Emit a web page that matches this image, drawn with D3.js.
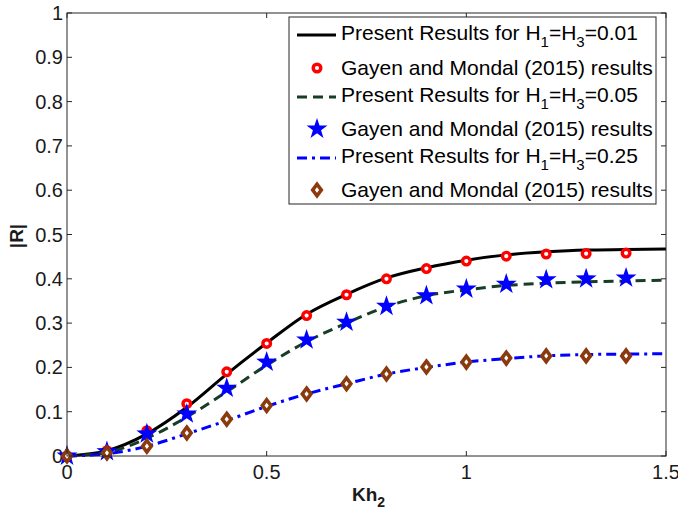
<!DOCTYPE html>
<html><head><meta charset="utf-8">
<script src="https://cdn.jsdelivr.net/npm/d3@7"></script>
<style>body{margin:0;background:#fff}svg{display:block}text{font-family:"Liberation Sans",Arial,Helvetica,sans-serif}</style>
</head><body><svg id="c" width="678" height="514"></svg>
<script>
// ---- data ----
const xLine = [0,0.1,0.2,0.3,0.4,0.5,0.6,0.7,0.8,0.9,1.0,1.1,1.2,1.3,1.4,1.5];
const line001 = [0,0.012,0.05,0.11,0.185,0.255,0.32,0.365,0.402,0.425,0.442,0.454,0.461,0.465,0.466,0.467];
const line005 = [0,0.008,0.04,0.088,0.145,0.205,0.258,0.3,0.337,0.362,0.375,0.385,0.39,0.393,0.395,0.397];
const line025 = [0,0.005,0.022,0.05,0.08,0.112,0.14,0.163,0.185,0.2,0.212,0.22,0.226,0.229,0.23,0.231];
const xPts = [0,0.1,0.2,0.3,0.4,0.5,0.6,0.7,0.8,0.9,1.0,1.1,1.2,1.3,1.4];
const gm001 = [0,0.012,0.057,0.118,0.19,0.254,0.317,0.364,0.40,0.423,0.44,0.451,0.456,0.457,0.458];
const gm005 = [0,0.01,0.05,0.095,0.153,0.212,0.262,0.302,0.338,0.362,0.377,0.388,0.398,0.40,0.402];
const gm025 = [0,0.007,0.022,0.052,0.083,0.114,0.14,0.163,0.185,0.201,0.212,0.221,0.226,0.226,0.226];
const xTicks = [0,0.5,1,1.5];
const xTickLabels = ["0","0.5","1","1.5"];
const yTicks = [0,0.1,0.2,0.3,0.4,0.5,0.6,0.7,0.8,0.9,1];
const yTickLabels = ["0","0.1","0.2","0.3","0.4","0.5","0.6","0.7","0.8","0.9","1"];

const svg = d3.select("#c");
const L=67,R=666,T=13,B=456;
const x = d3.scaleLinear().domain([0,1.5]).range([L,R]);
const y = d3.scaleLinear().domain([0,1]).range([B,T]);
const axC = "#262626";

svg.append("rect").attr("width",678).attr("height",514).attr("fill","#fff");
svg.append("rect").attr("x",L).attr("y",T).attr("width",R-L).attr("height",B-T).attr("fill","#fff");

// ticks
const tl = 5;
const g = svg.append("g").attr("stroke",axC).attr("stroke-width",1);
xTicks.forEach(t=>{
  g.append("line").attr("x1",x(t)).attr("x2",x(t)).attr("y1",B).attr("y2",B-tl);
  g.append("line").attr("x1",x(t)).attr("x2",x(t)).attr("y1",T).attr("y2",T+tl);
});
yTicks.forEach(t=>{
  g.append("line").attr("x1",L).attr("x2",L+tl).attr("y1",y(t)).attr("y2",y(t));
  g.append("line").attr("x1",R).attr("x2",R-tl).attr("y1",y(t)).attr("y2",y(t));
});
xTicks.forEach((t,i)=>svg.append("text").attr("x",x(t)).attr("y",479).attr("text-anchor","middle")
  .attr("font-size",20).attr("fill","#1a1a1a").text(xTickLabels[i]));
yTicks.forEach((t,i)=>svg.append("text").attr("x",63).attr("y",y(t)+7).attr("text-anchor","end")
  .attr("font-size",20).attr("fill","#1a1a1a").text(yTickLabels[i]));

// axis labels
const xl = svg.append("text").attr("x",352).attr("y",501).attr("font-size",19).attr("font-weight","bold").attr("fill","#1a1a1a");
xl.append("tspan").text("Kh");
xl.append("tspan").attr("font-size",14).attr("dy",6).text("2");
svg.append("text").attr("transform","translate(23,236) rotate(-90)").attr("text-anchor","middle")
  .attr("font-size",19).attr("font-weight","bold").attr("fill","#1a1a1a").text("|R|");

// shapes
function starPath(cx,cy,ro,ri){
  const p=[];
  for(let k=0;k<10;k++){const r=k%2?ri:ro;const a=-Math.PI/2+k*Math.PI/5;p.push([cx+r*Math.cos(a),cy+r*Math.sin(a)]);}
  return "M"+p.map(q=>q.join(",")).join("L")+"Z";
}
function diamondPath(cx,cy,w,h){return `M${cx},${cy-h}L${cx+w},${cy}L${cx},${cy+h}L${cx-w},${cy}Z`;}

const line = d3.line().x(d=>x(d[0])).y(d=>y(d[1])).curve(d3.curveMonotoneX);
const plot = svg.append("g");
const styles = [
  {stroke:"#000",dash:null},
  {stroke:"#173d26",dash:"10,6"},
  {stroke:"#0000ff",dash:"10,5,3,5"}
];
function drawLine(vals,s){
  plot.append("path").attr("d",line(xLine.map((v,i)=>[v,vals[i]]))).attr("fill","none")
    .attr("stroke",s.stroke).attr("stroke-width",3).attr("stroke-dasharray",s.dash);
}
function drawCircles(vals){
  xPts.forEach((v,i)=>plot.append("circle").attr("cx",x(v)).attr("cy",y(vals[i])).attr("r",3.8)
    .attr("fill","#fff").attr("stroke","#ff0000").attr("stroke-width",3.4));
}
function drawStars(vals){
  xPts.forEach((v,i)=>plot.append("path").attr("d",starPath(x(v),y(vals[i]),11,4.3)).attr("fill","#0000ff"));
}
function drawDiamonds(vals){
  xPts.forEach((v,i)=>plot.append("path").attr("d",diamondPath(x(v),y(vals[i]),4.3,5.8))
    .attr("fill","#fff").attr("stroke","#8b3a0e").attr("stroke-width",3.6).attr("stroke-linejoin","miter"));
}
drawLine(line001,styles[0]); drawCircles(gm001);
drawLine(line005,styles[1]); drawStars(gm005);
drawLine(line025,styles[2]); drawDiamonds(gm025);

// box
svg.append("rect").attr("x",L).attr("y",T).attr("width",R-L).attr("height",B-T).attr("fill","none")
  .attr("stroke",axC).attr("stroke-width",1);

// legend
const lg = svg.append("g");
lg.append("rect").attr("x",289).attr("y",17).attr("width",367).attr("height",187).attr("fill","#fff")
  .attr("stroke",axC).attr("stroke-width",1);
const legendH = ["0.01","0.05","0.25"];
const rowBase = [40,75,102,136,163,197];
const tx = 341;
for(let k=0;k<3;k++){
  const b1 = rowBase[2*k], b2 = rowBase[2*k+1];
  lg.append("line").attr("x1",297).attr("x2",336).attr("y1",b1-5).attr("y2",b1-5)
    .attr("stroke",styles[k].stroke).attr("stroke-width",3).attr("stroke-dasharray",styles[k].dash);
  const t = lg.append("text").attr("x",tx).attr("y",b1).attr("font-size",21).attr("fill","#000");
  t.append("tspan").text("Present Results for H");
  t.append("tspan").attr("font-size",15).attr("dy",7).text("1");
  t.append("tspan").attr("dy",-7).text("=H");
  t.append("tspan").attr("font-size",15).attr("dy",7).text("3");
  t.append("tspan").attr("dy",-7).text("="+legendH[k]);
  const my = b2-7;
  if(k===0) lg.append("circle").attr("cx",317).attr("cy",my).attr("r",3.8).attr("fill","#fff").attr("stroke","#ff0000").attr("stroke-width",3.4);
  if(k===1) lg.append("path").attr("d",starPath(317,my,11,4.3)).attr("fill","#0000ff");
  if(k===2) lg.append("path").attr("d",diamondPath(317,my,4.3,5.8)).attr("fill","#fff").attr("stroke","#8b3a0e").attr("stroke-width",3.6);
  lg.append("text").attr("x",tx).attr("y",b2).attr("font-size",21).attr("fill","#000").text("Gayen and Mondal (2015) results");
}
</script></body></html>
